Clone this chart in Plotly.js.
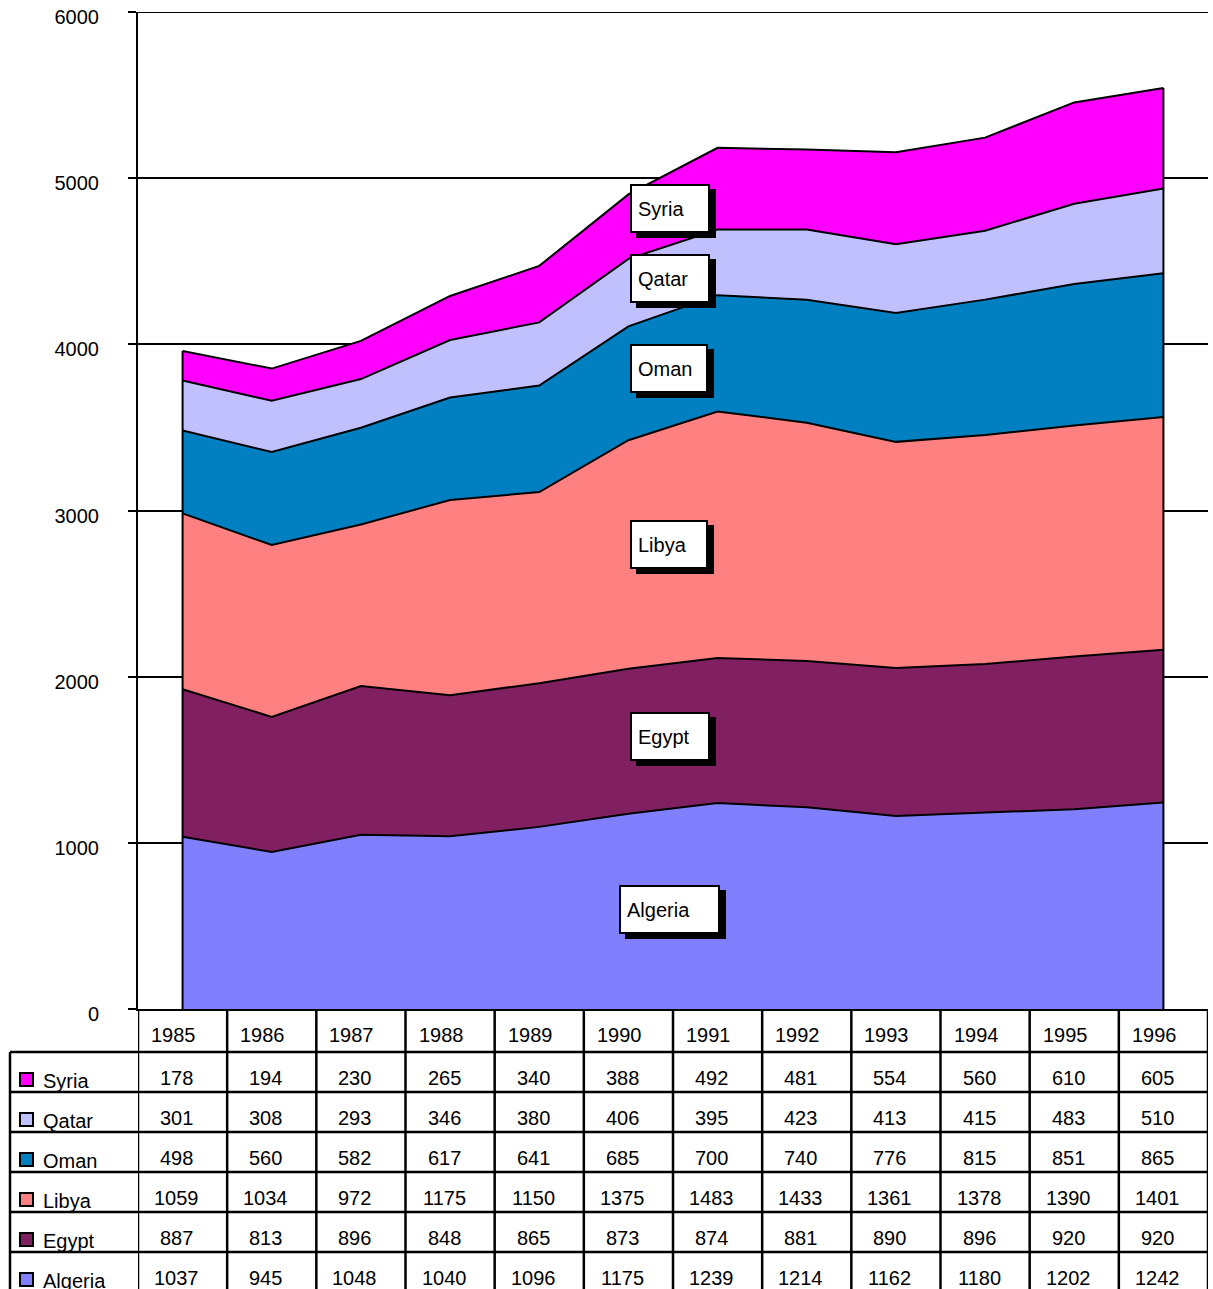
<!DOCTYPE html>
<html>
<head>
<meta charset="utf-8">
<script src="https://cdn.plot.ly/plotly-3.0.1.min.js"></script>
<style>
html,body{margin:0;padding:0;background:#fff;}
#chart{width:1213px;height:1289px;}
</style>
</head>
<body>
<div id="chart"></div>
<script>
// ---- data ----
const years   = [1985,1986,1987,1988,1989,1990,1991,1992,1993,1994,1995,1996];
const syria   = [178,194,230,265,340,388,492,481,554,560,610,605];
const qatar   = [301,308,293,346,380,406,395,423,413,415,483,510];
const oman    = [498,560,582,617,641,685,700,740,776,815,851,865];
const libya   = [1059,1034,972,1175,1150,1375,1483,1433,1361,1378,1390,1401];
const egypt   = [887,813,896,848,865,873,874,881,890,896,920,920];
const algeria = [1037,945,1048,1040,1096,1175,1239,1214,1162,1180,1202,1242];
const yTicks  = [0,1000,2000,3000,4000,5000,6000];

// table order (top to bottom)
const tableNames  = ['Syria','Qatar','Oman','Libya','Egypt','Algeria'];
const tableValues = [syria, qatar, oman, libya, egypt, algeria];
const tableColors = ['#FF00FF','#C0C0FF','#0080C0','#FF8080','#802060','#8080FF'];

// ---- geometry helpers (page pixels -> paper) ----
const W = 1213, H = 1289;
const mL = 138, mR = 5, mT = 12, mB = 280;
const plotW = W - mL - mR, plotH = H - mT - mB;
const px2x = p => (p - mL) / plotW;
const py2y = p => (H - mB - p) / plotH;

const cats = years.map(String);

// ---- stacked area traces (bottom to top) ----
const stackOrder = [5,4,3,2,1,0];
const traces = stackOrder.map(i => ({
  type: 'scatter', mode: 'lines', x: cats, y: tableValues[i],
  name: tableNames[i], stackgroup: 'one',
  line: {color: '#000', width: 2, shape: 'linear'},
  fillcolor: tableColors[i], hoverinfo: 'skip', showlegend: false
}));
// vertical edges of the stacked area
const totals = years.map((_, k) => tableValues.reduce((s, arr) => s + arr[k], 0));
[0, years.length - 1].forEach(k => {
  traces.push({type:'scatter', mode:'lines', x:[cats[k],cats[k]], y:[0,totals[k]],
    line:{color:'#000', width:2}, hoverinfo:'skip', showlegend:false, cliponaxis:false});
});

// ---- shapes ----
const shapes = [];
const lineW = 2.5;
const rowTops = [1052,1092,1132,1172,1212,1252];
// top gridline (at the maximum of the value axis)
shapes.push({type:'line', xref:'paper', yref:'y', x0:0, x1:1,
  y0:yTicks[yTicks.length-1], y1:yTicks[yTicks.length-1], line:{color:'#000', width:2}, layer:'below'});
// table grid
for (let k = 0; k <= years.length; k++) {
  shapes.push({type:'line', xref:'x', yref:'paper', x0:k-0.5, x1:k-0.5,
    y0:py2y(1009), y1:py2y(1295), line:{color:'#000', width:lineW}});
}
rowTops.forEach(t => {
  shapes.push({type:'line', xref:'paper', yref:'paper', x0:px2x(10), x1:1,
    y0:py2y(t), y1:py2y(t), line:{color:'#000', width:lineW}});
});
shapes.push({type:'line', xref:'paper', yref:'paper', x0:px2x(10), x1:px2x(10),
  y0:py2y(1052), y1:py2y(1295), line:{color:'#000', width:lineW}});
// legend keys
tableNames.forEach((n, r) => {
  shapes.push({type:'rect', xref:'paper', yref:'paper',
    x0:px2x(20), x1:px2x(33), y0:py2y(rowTops[r]+34), y1:py2y(rowTops[r]+21),
    fillcolor: tableColors[r], line:{color:'#000', width:2}});
});

// ---- annotations ----
const annotations = [];
const font = {family:'Liberation Sans, Arial, sans-serif', size:20, color:'#000'};
// header years
years.forEach((y, k) => {
  annotations.push({xref:'x', yref:'paper', x:k, y:py2y(1035), text:String(y),
    showarrow:false, font, xanchor:'center', yanchor:'middle', xshift:-9});
});
// values
tableValues.forEach((arr, r) => {
  arr.forEach((v, k) => {
    annotations.push({xref:'x', yref:'paper', x:k, y:py2y(rowTops[r]+26), text:String(v),
      showarrow:false, font, xanchor:'center', yanchor:'middle', xshift:-6});
  });
  annotations.push({xref:'paper', yref:'paper', x:px2x(41), y:py2y(rowTops[r]+29),
    text:tableNames[r], showarrow:false, font, xanchor:'left', yanchor:'middle'});
});
// series label boxes (left, top, width in px)
const boxes = [
  ['Syria', 630, 183, 80],
  ['Qatar', 630, 253, 80],
  ['Oman', 630, 343, 78],
  ['Libya', 630, 519, 78],
  ['Egypt', 630, 711, 80],
  ['Algeria', 619, 884, 101]
];
boxes.forEach(([name, l, t, w]) => {
  const base = {xref:'paper', yref:'paper', x:px2x(l), y:py2y(t), xanchor:'left', yanchor:'top',
    showarrow:false, width:w-16, height:49-16, borderpad:6, borderwidth:2, align:'left', valign:'middle'};
  annotations.push(Object.assign({}, base, {text:' ', bgcolor:'#000', bordercolor:'#000',
    xshift:6, yshift:-6, font}));
  annotations.push(Object.assign({}, base, {text:name, bgcolor:'#fff', bordercolor:'#000',
    yshift:-1, font}));
});

const layout = {
  width: W, height: H,
  margin: {l:mL, r:mR, t:mT, b:mB, pad:0},
  paper_bgcolor:'#fff', plot_bgcolor:'#fff',
  showlegend:false,
  font,
  xaxis: {type:'category', range:[-0.5, years.length-0.5], showticklabels:false,
    ticks:'', showgrid:false, zeroline:false, showline:true, linecolor:'#000', linewidth:2, fixedrange:true},
  yaxis: {range:[0,6000], tickvals:yTicks, ticktext:yTicks.map(String), showgrid:true,
    gridcolor:'#000', gridwidth:2, zeroline:false, showline:true, linecolor:'#000', linewidth:2,
    ticks:'outside', ticklen:8, tickwidth:2, tickcolor:'#000', tickfont:font,
    ticklabelstandoff:25, ticklabelshift:5, fixedrange:true},
  shapes, annotations
};
Plotly.newPlot('chart', traces, layout, {staticPlot:true, displayModeBar:false});
</script>
</body>
</html>
